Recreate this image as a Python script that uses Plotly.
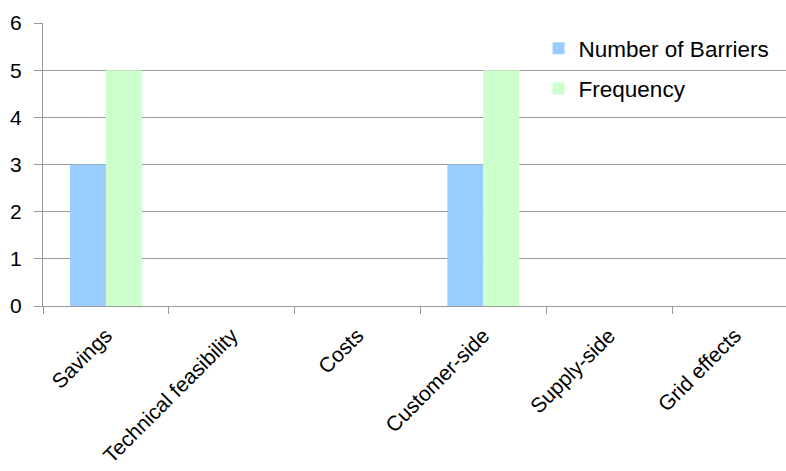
import plotly.graph_objects as go

categories = ["Savings", "Technical feasibility", "Costs", "Customer-side", "Supply-side", "Grid effects"]
barriers = [3, 0, 0, 3, 0, 0]
frequency = [5, 0, 0, 5, 0, 0]
y_ticks = [0, 1, 2, 3, 4, 5, 6]

font = dict(family="Liberation Sans, Arial, sans-serif", size=21, color="#000000")
legend_font = dict(family="Liberation Sans, Arial, sans-serif", size=22.5, color="#000000")

fig = go.Figure()
fig.add_trace(go.Bar(x=categories, y=barriers, name="Number of Barriers",
                     marker=dict(color="#99CCFF", line=dict(width=0)), legendgroup="a"))
fig.add_trace(go.Bar(x=categories, y=frequency, name="Frequency",
                     marker=dict(color="#CCFFCC", line=dict(width=0)), legendgroup="b"))

fig.update_layout(
    width=786, height=471,
    margin=dict(l=43, r=0, t=23, b=165),
    paper_bgcolor="white", plot_bgcolor="white",
    font=font,
    barmode="group", bargap=1.5 / 3.5, bargroupgap=0,
    showlegend=True,
    legend=dict(x=0.667, y=0.985, xanchor="left", yanchor="top",
                bgcolor="rgba(0,0,0,0)", font=legend_font,
                traceorder="grouped", tracegroupgap=8, itemwidth=30),
    xaxis=dict(type="category", range=[-0.5, 5.406], tickangle=-45,
               tickson="boundaries", ticks="outside", ticklen=7, tickcolor="#999999",
               showline=True, linecolor="#999999", linewidth=1, showgrid=False,
               tickfont=font, ticklabelstandoff=8),
    yaxis=dict(range=[0, 6], tickvals=y_ticks, ticks="outside", ticklen=8,
               tickcolor="#999999", showline=True, linecolor="#999999", linewidth=1,
               showgrid=True, gridcolor="#999999", gridwidth=1, zeroline=False,
               tickfont=font, ticklabelstandoff=8),
)

fig.write_html("out.html")
